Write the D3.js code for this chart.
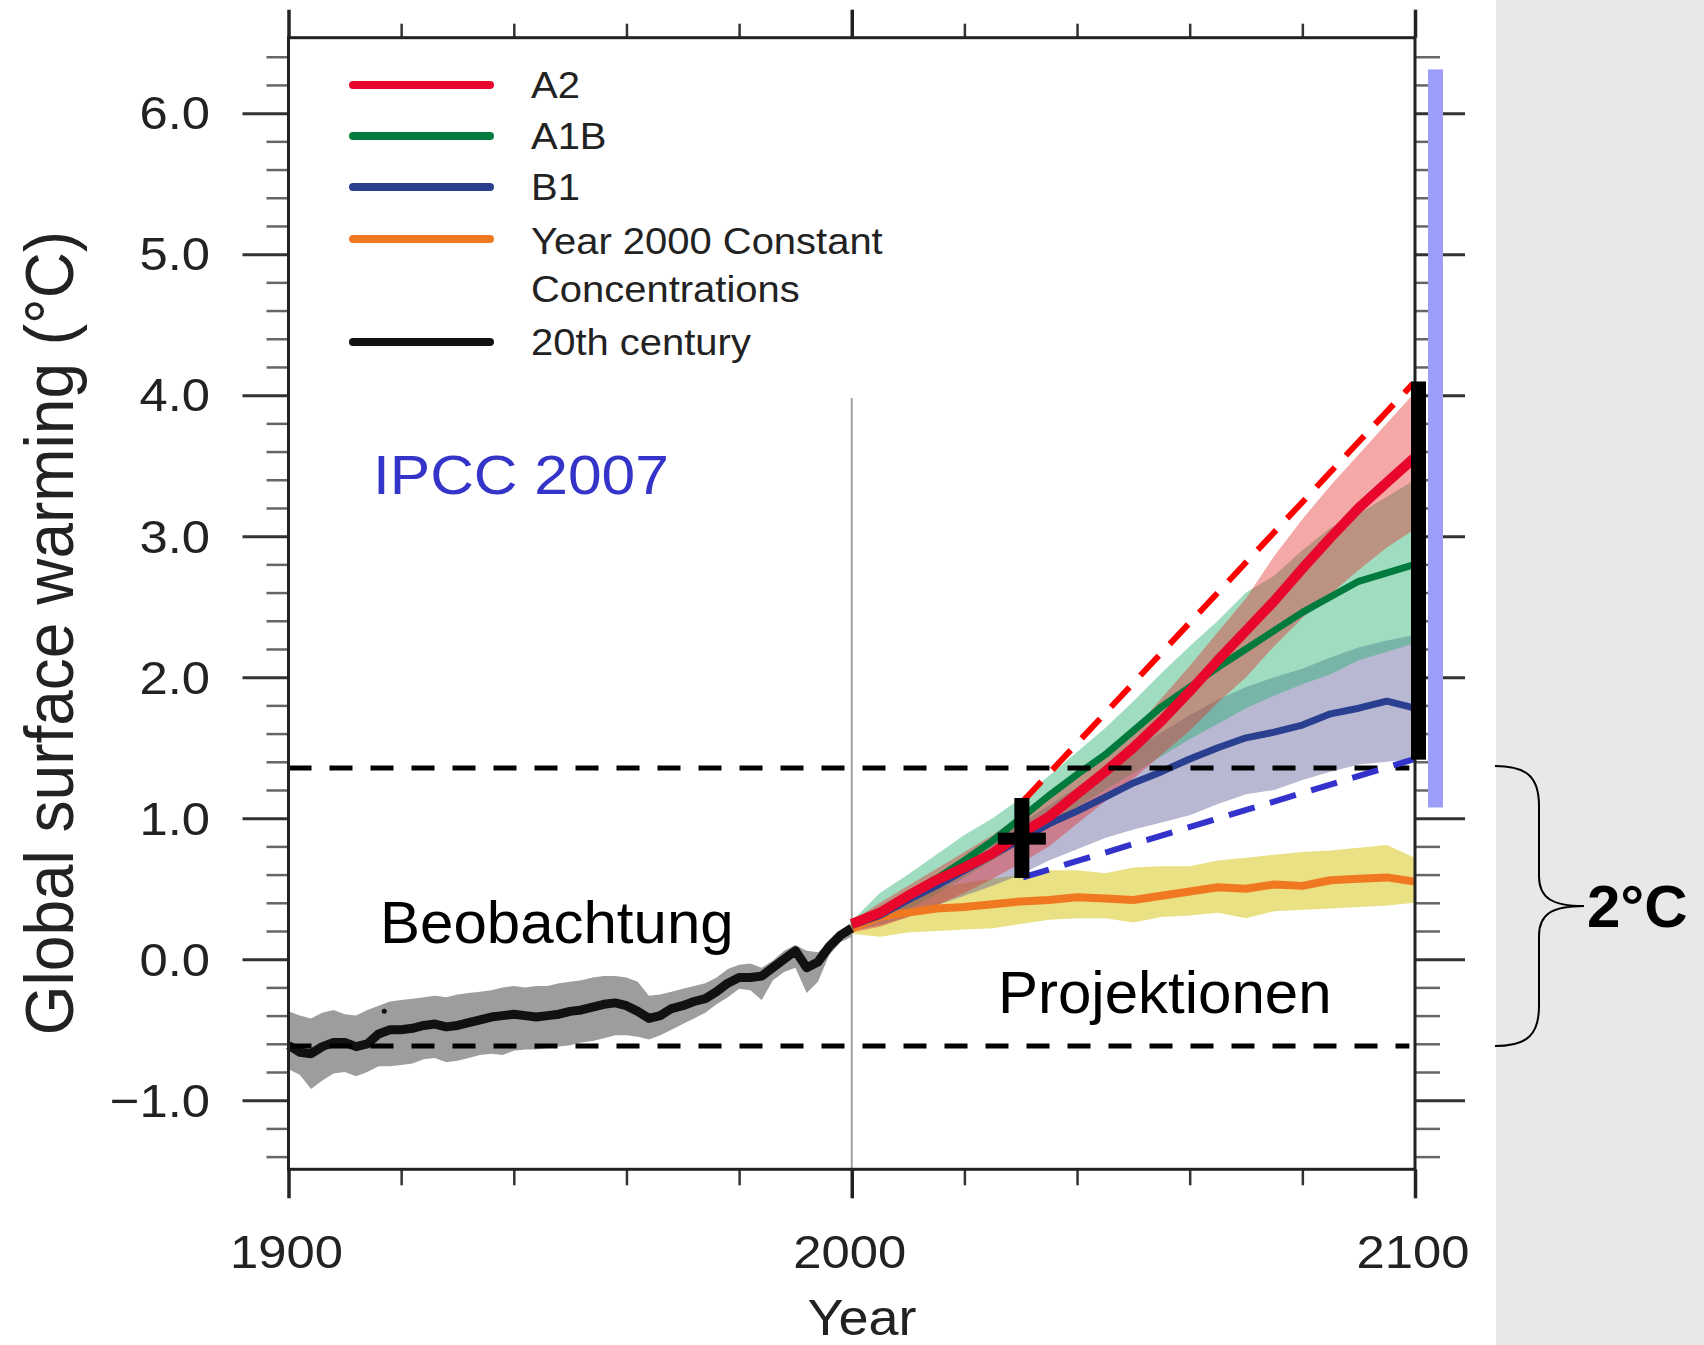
<!DOCTYPE html>
<html>
<head>
<meta charset="utf-8">
<script src="https://cdn.jsdelivr.net/npm/d3@7"></script>
<style>
body { margin: 0; background: #fff; }
text { font-family: "Liberation Sans", Arial, sans-serif; }
</style>
</head>
<body>
<div id="chart"></div>
<script>
// ---- data ----
var histYears = [1900,1902,1904,1906,1908,1910,1912,1914,1916,1918,1920,1922,1924,1926,1928,1930,
	1932,1934,1936,1938,1940,1942,1944,1946,1948,1950,1952,1954,1956,1958,1960,1962,1964,1966,
	1968,1970,1972,1974,1976,1978,1980,1982,1984,1986,1988,1990,1992,1994,1996,1998,2000];
var histMean = [-0.61,-0.66,-0.67,-0.62,-0.59,-0.59,-0.62,-0.60,-0.53,-0.50,-0.50,-0.49,-0.47,-0.46,
	-0.48,-0.47,-0.45,-0.43,-0.41,-0.40,-0.39,-0.40,-0.41,-0.40,-0.39,-0.37,-0.36,-0.34,-0.32,-0.31,
	-0.33,-0.37,-0.42,-0.40,-0.35,-0.33,-0.30,-0.28,-0.23,-0.17,-0.13,-0.13,-0.12,-0.06,0.00,0.06,
	-0.06,-0.02,0.09,0.17,0.22];
var histHigh = [-0.37,-0.40,-0.42,-0.38,-0.36,-0.39,-0.40,-0.36,-0.33,-0.30,-0.29,-0.28,-0.27,-0.26,
	-0.27,-0.25,-0.24,-0.23,-0.22,-0.20,-0.19,-0.20,-0.19,-0.19,-0.17,-0.16,-0.15,-0.13,-0.12,-0.12,
	-0.13,-0.16,-0.26,-0.25,-0.23,-0.21,-0.19,-0.17,-0.13,-0.07,-0.04,-0.03,-0.06,-0.01,0.06,0.10,
	0.06,0.05,0.12,0.19,0.25];
var histLow = [-0.78,-0.82,-0.92,-0.86,-0.81,-0.80,-0.83,-0.80,-0.76,-0.76,-0.75,-0.74,-0.71,-0.70,
	-0.73,-0.72,-0.70,-0.68,-0.67,-0.68,-0.65,-0.64,-0.64,-0.63,-0.62,-0.61,-0.59,-0.58,-0.56,-0.54,
	-0.54,-0.55,-0.57,-0.54,-0.50,-0.46,-0.42,-0.38,-0.32,-0.27,-0.21,-0.22,-0.29,-0.15,-0.09,-0.06,
	-0.24,-0.16,0.03,0.12,0.16];

var projYears = [2000,2005,2010,2015,2020,2025,2030,2035,2040,2045,2050,2055,2060,2065,2070,2075,2080,2085,2090,2095,2100];

var a2Mean  = [0.25,0.33,0.45,0.56,0.65,0.75,0.89,1.01,1.17,1.33,1.50,1.69,1.90,2.12,2.33,2.54,2.77,2.99,3.20,3.38,3.56];
var a2High  = [0.27,0.40,0.52,0.64,0.76,0.88,1.02,1.14,1.29,1.45,1.62,1.85,2.08,2.32,2.56,2.86,3.12,3.36,3.58,3.80,4.02];
var a2Low   = [0.19,0.23,0.30,0.38,0.47,0.57,0.68,0.80,0.96,1.12,1.28,1.45,1.62,1.82,2.00,2.22,2.42,2.59,2.76,2.92,3.05];

var a1bMean = [0.25,0.34,0.45,0.57,0.70,0.84,1.00,1.16,1.31,1.45,1.62,1.79,1.93,2.07,2.20,2.33,2.46,2.57,2.68,2.74,2.80];
var a1bHigh = [0.27,0.47,0.60,0.74,0.88,1.00,1.14,1.30,1.47,1.64,1.83,2.03,2.22,2.40,2.60,2.72,2.90,3.06,3.16,3.28,3.40];
var a1bLow  = [0.22,0.27,0.35,0.46,0.58,0.70,0.82,0.95,1.08,1.20,1.32,1.44,1.56,1.67,1.78,1.87,1.95,2.02,2.12,2.18,2.24];

var b1Mean  = [0.24,0.31,0.42,0.52,0.63,0.74,0.85,0.96,1.05,1.15,1.25,1.33,1.42,1.50,1.57,1.61,1.66,1.74,1.78,1.83,1.78];
var b1High  = [0.26,0.36,0.47,0.58,0.70,0.83,0.96,1.09,1.22,1.36,1.49,1.61,1.73,1.84,1.93,2.00,2.06,2.14,2.21,2.26,2.30];
var b1Low   = [0.20,0.24,0.30,0.38,0.45,0.52,0.60,0.70,0.78,0.86,0.92,0.97,1.02,1.10,1.17,1.20,1.27,1.33,1.38,1.40,1.42];

var constMean = [0.22,0.30,0.33,0.36,0.37,0.39,0.41,0.42,0.44,0.43,0.42,0.45,0.48,0.51,0.50,0.53,0.52,0.56,0.57,0.58,0.55];
var constHigh = [0.25,0.33,0.45,0.50,0.54,0.57,0.60,0.63,0.63,0.61,0.65,0.66,0.66,0.70,0.72,0.74,0.76,0.77,0.79,0.81,0.72];
var constLow  = [0.18,0.16,0.19,0.20,0.21,0.22,0.25,0.28,0.29,0.29,0.26,0.30,0.31,0.33,0.29,0.34,0.35,0.36,0.37,0.38,0.40];

var legendLabels = ["A2", "A1B", "B1", "Year 2000 Constant", "20th century"];
var yMajorTicks = [-1, 0, 1, 2, 3, 4, 5, 6];
var yMinorTicks = [-1.4,-1.2,-0.8,-0.6,-0.4,-0.2,0.2,0.4,0.6,0.8,1.2,1.4,1.6,1.8,2.2,2.4,2.6,2.8,
	3.2,3.4,3.6,3.8,4.2,4.4,4.6,4.8,5.2,5.4,5.6,5.8,6.2,6.4];
var xMajorTicks = [1900, 2000, 2100];
var xMinorTicks = [1920, 1940, 1960, 1980, 2020, 2040, 2060, 2080];

// annotation values (degrees / years)
var upperLimit = 1.356, lowerLimit = -0.616;       // the 2 degree window
var rangeBar = [1.415, 4.097];                     // black bar at 2100
var blueBar = [1.076, 6.31];
var crossPoint = { year: 2030.2, low: 0.576, high: 1.143, mid: 0.855 };
var redDash = [[2030.4, 1.12], [2099.6, 4.08]];
var blueDash = [[2030.4, 0.58], [2100, 1.42]];
var strayDot = [1917, -0.37];

// ---- layout ----
var W = 1704, H = 1345;
var stretch = 1.08;  // source figure is a little wider than tall
var yTop = 6.535, yBottom = -1.49;

var x = d3.scaleLinear().domain([1900, 2100]).range([288.5, 1415]);
var y = d3.scaleLinear().domain([yBottom, yTop]).range([1169.3, 37.7]);

var colors = { a2: "#e8062c", a1b: "#007a3d", b1: "#2a3f8f", cst: "#f07820", hist: "#111" };

var svg = d3.select("#chart").append("svg")
	.attr("width", W)
	.attr("height", H)
	.style("display", "block");

svg.append("rect").attr("width", W).attr("height", H).attr("fill", "#fff");
svg.append("rect").attr("x", 1496).attr("y", 0).attr("width", W - 1496).attr("height", H).attr("fill", "#e8e8e8");

function txt(px, py, str, size, opts) {
	opts = opts || {};
	var s = opts.stretch || 1;
	var t = svg.append("text")
		.attr("transform", "translate(" + px + "," + py + ")" + (opts.rotate ? " rotate(-90) scale(1," + s + ")" : " scale(" + s + ",1)"))
		.attr("font-size", size + "px")
		.attr("text-anchor", opts.anchor || "start")
		.attr("fill", opts.fill || "#1a1a1a")
		.text(str);
	if (opts.bold) t.attr("font-weight", "bold");
	if (opts.middle) t.attr("dominant-baseline", "central");
	return t;
}

// vertical 2000 line
svg.append("line")
	.attr("x1", x(2000)).attr("x2", x(2000))
	.attr("y1", y(3.98)).attr("y2", y(yBottom))
	.attr("stroke", "#a0a0a0").attr("stroke-width", 2);

// ---- bands ----
function band(years, lo, hi) {
	return d3.area()
		.x(function(d, i){ return x(years[i]); })
		.y0(function(d, i){ return y(lo[i]); })
		.y1(function(d, i){ return y(hi[i]); })(lo);
}
function line(years, vals) {
	return d3.line()
		.x(function(d, i){ return x(years[i]); })
		.y(function(d){ return y(d); })(vals);
}

svg.append("path").attr("d", band(histYears, histLow, histHigh)).attr("fill", "#9c9e9e");
svg.append("path").attr("d", band(projYears, constLow, constHigh)).attr("fill", "rgb(215,200,30)").attr("fill-opacity", 0.55);
svg.append("path").attr("d", band(projYears, b1Low, b1High)).attr("fill", "rgb(90,90,150)").attr("fill-opacity", 0.43);
svg.append("path").attr("d", band(projYears, a1bLow, a1bHigh)).attr("fill", "rgb(38,175,111)").attr("fill-opacity", 0.44);
svg.append("path").attr("d", band(projYears, a2Low, a2High)).attr("fill", "rgb(228,43,43)").attr("fill-opacity", 0.41);

// ---- mean lines ----
[[constMean, colors.cst, 8], [b1Mean, colors.b1, 7], [a1bMean, colors.a1b, 7], [a2Mean, colors.a2, 10]]
	.forEach(function(s){
		svg.append("path").attr("d", line(projYears, s[0]))
			.attr("fill", "none").attr("stroke", s[1]).attr("stroke-width", s[2])
			.attr("stroke-linejoin", "round");
	});
svg.append("path").attr("d", line(histYears, histMean))
	.attr("fill", "none").attr("stroke", colors.hist).attr("stroke-width", 9).attr("stroke-linejoin", "round");
svg.append("circle").attr("cx", x(strayDot[0])).attr("cy", y(strayDot[1])).attr("r", 2.5).attr("fill", "#111");

// ---- dashed guides ----
[upperLimit, lowerLimit].forEach(function(v){
	svg.append("line")
		.attr("x1", x(1900)).attr("x2", x(2099))
		.attr("y1", y(v)).attr("y2", y(v))
		.attr("stroke", "#000").attr("stroke-width", 5).attr("stroke-dasharray", "23,18");
});
svg.append("line")
	.attr("x1", x(redDash[0][0])).attr("y1", y(redDash[0][1]))
	.attr("x2", x(redDash[1][0])).attr("y2", y(redDash[1][1]))
	.attr("stroke", "#ff0000").attr("stroke-width", 6).attr("stroke-dasharray", "27,16");
svg.append("line")
	.attr("x1", x(blueDash[0][0])).attr("y1", y(blueDash[0][1]))
	.attr("x2", x(blueDash[1][0])).attr("y2", y(blueDash[1][1]))
	.attr("stroke", "#3333cc").attr("stroke-width", 6).attr("stroke-dasharray", "27,16");

// cross at 2030
svg.append("rect")
	.attr("x", x(crossPoint.year) - 7.5).attr("width", 15)
	.attr("y", y(crossPoint.high)).attr("height", y(crossPoint.low) - y(crossPoint.high))
	.attr("fill", "#000");
svg.append("rect")
	.attr("x", x(crossPoint.year) - 24).attr("width", 48)
	.attr("y", y(crossPoint.mid) - 6).attr("height", 12)
	.attr("fill", "#000");

// ---- frame and ticks ----
function styleTicks(g, color, width) {
	g.select(".domain").remove();
	g.selectAll("line").attr("stroke", color).attr("stroke-width", width);
}
svg.append("g").attr("transform", "translate(" + x(1900) + ",0)")
	.call(d3.axisLeft(y).tickValues(yMinorTicks).tickSize(22).tickFormat(""))
	.call(styleTicks, "#666", 2.5);
svg.append("g").attr("transform", "translate(" + x(1900) + ",0)")
	.call(d3.axisLeft(y).tickValues(yMajorTicks).tickSize(46).tickFormat(""))
	.call(styleTicks, "#333", 3);
svg.append("g").attr("transform", "translate(" + x(2100) + ",0)")
	.call(d3.axisRight(y).tickValues(yMinorTicks).tickSize(25).tickFormat(""))
	.call(styleTicks, "#666", 2.5);
svg.append("g").attr("transform", "translate(" + x(2100) + ",0)")
	.call(d3.axisRight(y).tickValues(yMajorTicks).tickSize(50).tickFormat(""))
	.call(styleTicks, "#333", 3);
svg.append("g").attr("transform", "translate(0," + y(yTop) + ")")
	.call(d3.axisTop(x).tickValues(xMinorTicks).tickSize(14).tickFormat(""))
	.call(styleTicks, "#333", 2.5);
svg.append("g").attr("transform", "translate(0," + y(yTop) + ")")
	.call(d3.axisTop(x).tickValues(xMajorTicks).tickSize(28).tickFormat(""))
	.call(styleTicks, "#222", 3.5);
svg.append("g").attr("transform", "translate(0," + y(yBottom) + ")")
	.call(d3.axisBottom(x).tickValues(xMinorTicks).tickSize(16).tickFormat(""))
	.call(styleTicks, "#333", 2.5);
svg.append("g").attr("transform", "translate(0," + y(yBottom) + ")")
	.call(d3.axisBottom(x).tickValues(xMajorTicks).tickSize(29).tickFormat(""))
	.call(styleTicks, "#222", 3.5);

svg.append("rect")
	.attr("x", x(1900)).attr("y", y(yTop))
	.attr("width", x(2100) - x(1900)).attr("height", y(yBottom) - y(yTop))
	.attr("fill", "none").attr("stroke", "#222").attr("stroke-width", 3);

// range bars at 2100
svg.append("rect")
	.attr("x", x(2100) - 4).attr("width", 15)
	.attr("y", y(rangeBar[1])).attr("height", y(rangeBar[0]) - y(rangeBar[1]))
	.attr("fill", "#000");
svg.append("rect")
	.attr("x", x(2100) + 13).attr("width", 15)
	.attr("y", y(blueBar[1])).attr("height", y(blueBar[0]) - y(blueBar[1]))
	.attr("fill", "#9d9dfa");

// tick labels
var fmt = d3.format(".1f");
yMajorTicks.forEach(function(v){
	txt(210, y(v), fmt(v), 47, { anchor: "end", middle: true, stretch: stretch, fill: "#222" });
});
xMajorTicks.forEach(function(v){
	txt(x(v) - 2, 1252, String(v), 47, { anchor: "middle", middle: true, stretch: stretch, fill: "#222" });
});
txt(862, 1318, "Year", 50, { anchor: "middle", middle: true, stretch: stretch, fill: "#222" });
txt(49, 633, "Global surface warming (\u00b0C)", 64, { anchor: "middle", middle: true, rotate: true, stretch: stretch, fill: "#222" });

// legend
var legendY = [85, 136, 187, 239, 342];
var legendColors = [colors.a2, colors.a1b, colors.b1, colors.cst, colors.hist];
legendLabels.forEach(function(lab, i){
	svg.append("line")
		.attr("x1", 353).attr("x2", 490)
		.attr("y1", legendY[i]).attr("y2", legendY[i])
		.attr("stroke", legendColors[i]).attr("stroke-width", 8).attr("stroke-linecap", "round");
	txt(531, legendY[i] + (i == 3 ? 2 : 0), lab, 37, { middle: true, stretch: stretch, fill: "#222" });
});
txt(531, 289, "Concentrations", 37, { middle: true, stretch: stretch, fill: "#222" });

// annotations
txt(373, 494, "IPCC 2007", 56, { stretch: stretch, fill: "#3434c8" });
txt(380, 943, "Beobachtung", 60, { fill: "#000" });
txt(998, 1013, "Projektionen", 60, { fill: "#000" });

// brace for the 2 degree window
var bTop = y(upperLimit) - 2, bBot = y(lowerLimit), bMid = (bTop + bBot) / 2;
svg.append("path")
	.attr("d", "M1495," + bTop +
		" C1528," + bTop + " 1539," + (bTop + 12) + " 1539," + (bTop + 40) +
		" L1539," + (bMid - 30) +
		" C1539," + (bMid - 8) + " 1552," + bMid + " 1584," + bMid +
		" C1552," + bMid + " 1539," + (bMid + 8) + " 1539," + (bMid + 30) +
		" L1539," + (bBot - 40) +
		" C1539," + (bBot - 12) + " 1528," + bBot + " 1495," + bBot)
	.attr("fill", "none").attr("stroke", "#000").attr("stroke-width", 2);
txt(1587, bMid + 21, "2\u00b0C", 60, { bold: true, fill: "#000" });
</script>
</body>
</html>
